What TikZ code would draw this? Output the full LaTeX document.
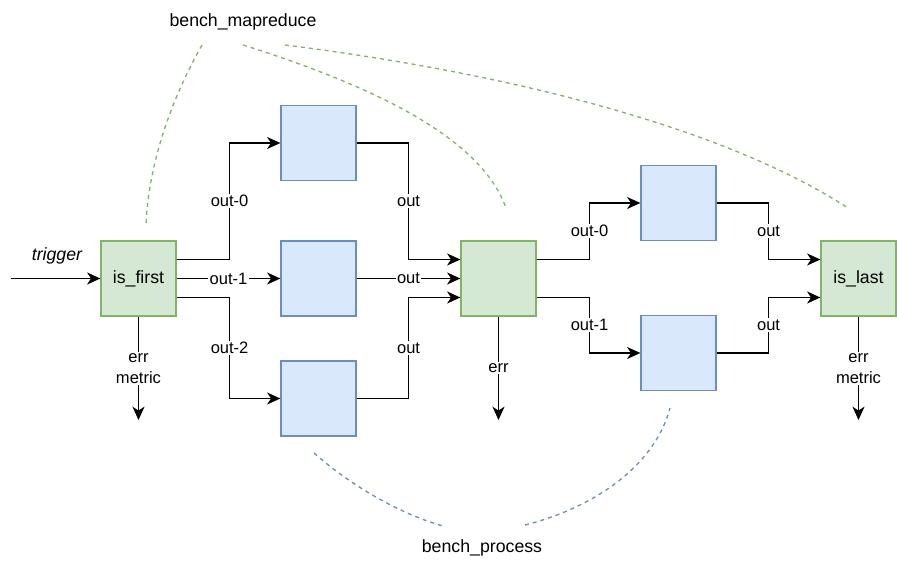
\documentclass[tikz,border=0pt]{standalone}
\usepackage{fontspec}
\setmainfont{Liberation Sans}
\usetikzlibrary{arrows.meta}
\definecolor{gfill}{HTML}{D5E8D4}
\definecolor{gline}{HTML}{82B366}
\definecolor{bfill}{HTML}{DAE8FC}
\definecolor{bline}{HTML}{6C8EBF}
\begin{document}
\begin{tikzpicture}[x=0.75pt,y=-0.75pt,
  gbox/.style={draw=gline, fill=gfill, line width=0.9pt, minimum size=56.25pt, inner sep=0pt, font=\fontsize{13.3}{16}\selectfont},
  bbox/.style={draw=bline, fill=bfill, line width=0.9pt, minimum size=56.25pt, inner sep=0pt},
  conn/.style={draw=black, line width=1.2pt, -{Stealth[length=10pt,width=9pt,inset=3pt]}},
  elabel/.style={fill=white, inner sep=1pt, font=\fontsize{12.4}{15.75}\selectfont, align=center},
  gdash/.style={draw=gline, line width=1pt, dash pattern=on 3pt off 3pt},
  bdash/.style={draw=bline, line width=1pt, dash pattern=on 3pt off 3pt},
  title/.style={font=\fontsize{13.3}{16}\selectfont, inner sep=0pt}
]
\useasboundingbox (0,0) rectangle (897,570);

% nodes
\node[gbox] (first) at (138.5,278.5) {is\_first};
\node[bbox] (a1) at (318.5,143) {};
\node[bbox] (a2) at (318.5,278.5) {};
\node[bbox] (a3) at (318.5,398.5) {};
\node[gbox] (mid) at (498.5,278.5) {};
\node[bbox] (c1) at (678.5,203) {};
\node[bbox] (c2) at (678.5,353) {};
\node[gbox] (last) at (858.5,278.5) {is\_last};

% trigger
\coordinate (trig) at (11,278.5);
\draw[conn] (trig) -- (first.west);
\node[title, font=\fontsize{13.3}{16}\selectfont\itshape] (triglbl) at (57,256) {trigger};

% is_first -> left column
\draw[conn] ([yshift=14.25pt]first.east) -- ++(53,0) |- node[elabel, pos=0.25] {out-0} (a1.west);
\draw[conn] (first.east) -- node[elabel] {out-1} (a2.west);
\draw[conn] ([yshift=-14.25pt]first.east) -- ++(53,0) |- node[elabel, pos=0.25] {out-2} (a3.west);

% left column -> mid
\draw[conn] (a1.east) -- ++(52,0) |- node[elabel, pos=0.25] {out} ([yshift=14.25pt]mid.west);
\draw[conn] (a2.east) -- node[elabel] {out} (mid.west);
\draw[conn] (a3.east) -- ++(52,0) |- node[elabel, pos=0.25] {out} ([yshift=-14.25pt]mid.west);

% mid -> right column
\draw[conn] ([yshift=14.25pt]mid.east) -- ++(53,0) |- node[elabel, pos=0.25] {out-0} (c1.west);
\draw[conn] ([yshift=-14.25pt]mid.east) -- ++(53,0) |- node[elabel, pos=0.25] {out-1} (c2.west);

% right column -> is_last
\draw[conn] (c1.east) -- ++(52,0) |- node[elabel, pos=0.25] {out} ([yshift=14.25pt]last.west);
\draw[conn] (c2.east) -- ++(52,0) |- node[elabel, pos=0.25] {out} ([yshift=-14.25pt]last.west);

% error outputs
\coordinate (e1) at (138.5,420);
\coordinate (e2) at (498.5,420);
\coordinate (e3) at (858.5,420);
\draw[conn] (first.south) -- node[elabel] {err\\metric} (e1);
\draw[conn] (mid.south) -- node[elabel] {err} (e2);
\draw[conn] (last.south) -- node[elabel] {err\\metric} (e3);

% group labels
\node[title] (mapred) at (243,22) {bench\_mapreduce};
\node[title] (proc) at (482,548) {bench\_process};

% green dashed curves
\coordinate (g1s) at (202,45);
\coordinate (g1e) at (146,225);
\coordinate (g2s) at (243,45);
\coordinate (g2e) at (506,208);
\coordinate (g3s) at (285,45);
\coordinate (g3e) at (848,208);
\draw[gdash] (g1s) .. controls (168,105) and (148,170) .. (g1e);
\draw[gdash] (g2s) .. controls (380,88) and (482,140) .. (g2e);
\draw[gdash] (g3s) .. controls (500,72) and (720,125) .. (g3e);

% blue dashed curves
\coordinate (p1s) at (314,453);
\coordinate (p1e) at (443,526);
\coordinate (p2s) at (525,525);
\coordinate (p2e) at (670,408);
\draw[bdash] (p1s) .. controls (350,485) and (400,514) .. (p1e);
\draw[bdash] (p2s) .. controls (600,506) and (656,462) .. (p2e);
\end{tikzpicture}
\end{document}
